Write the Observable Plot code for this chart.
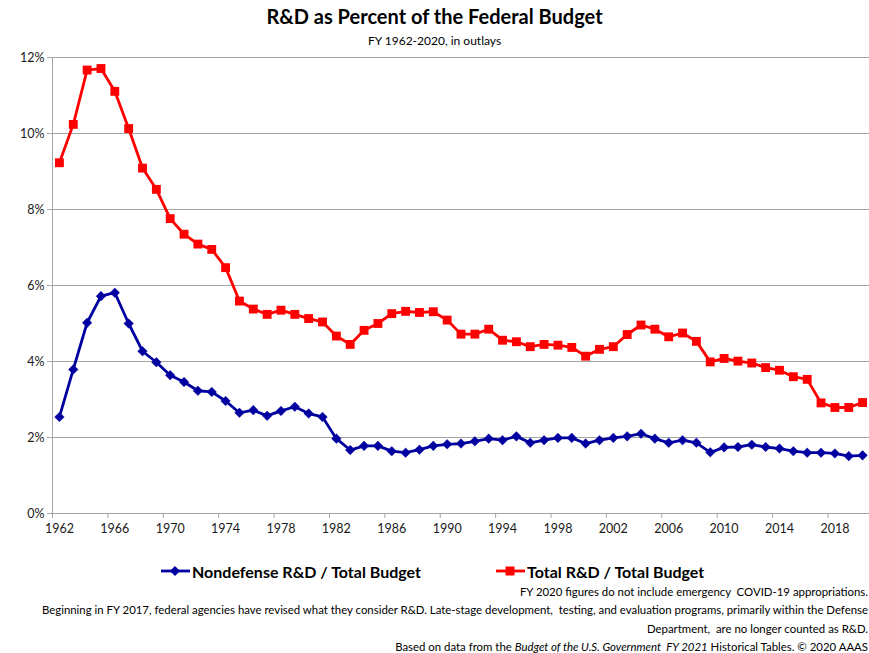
<!DOCTYPE html>
<html>
<head>
<meta charset="utf-8">
<script src="https://cdn.jsdelivr.net/npm/d3@7"></script>
<script src="https://cdn.jsdelivr.net/npm/@observablehq/plot@0.6"></script>
<style>
  html, body { margin: 0; padding: 0; background: #fff; overflow: hidden; }
  #wrap { position: relative; width: 869px; height: 653px; font-family: Lato, "Open Sans", sans-serif; color: #000; overflow: hidden; }
  #wrap svg.plot { position: absolute; left: 0; top: 0; }
  .title { position: absolute; left: 0; width: 869px; text-align: center; top: 4px; font-size: 20px; font-weight: bold; }
  .subtitle { position: absolute; left: 0; width: 869px; text-align: center; top: 33px; font-size: 12px; }
  .legend { position: absolute; top: 559px; left: 0; width: 869px; height: 24px; }
  .legend .item { position: absolute; top: 0; display: flex; align-items: center; font-size: 16px; font-weight: bold; }
  .legend svg { margin-right: 2px; }
  .notes { position: absolute; right: 1px; top: 583px; text-align: right; font-size: 11.4px; line-height: 18.4px; white-space: nowrap; }
</style>
</head>
<body>
<div id="wrap">
  <div class="title">R&amp;D as Percent of the Federal Budget</div>
  <div class="subtitle">FY 1962-2020, in outlays</div>
</div>
<script>
const years = d3.range(1962, 2021);
const nondefense = [
  2.54, 3.79, 5.02, 5.72, 5.81, 5.00, 4.27, 3.98, 3.64, 3.46,
  3.23, 3.20, 2.96, 2.65, 2.72, 2.57, 2.70, 2.81, 2.63, 2.54,
  1.97, 1.67, 1.78, 1.78, 1.64, 1.60, 1.68, 1.78, 1.82, 1.84,
  1.90, 1.97, 1.93, 2.03, 1.86, 1.93, 1.99, 1.99, 1.84, 1.93,
  1.99, 2.03, 2.10, 1.97, 1.86, 1.93, 1.86, 1.61, 1.74, 1.75,
  1.81, 1.75, 1.71, 1.64, 1.60, 1.60, 1.58, 1.51, 1.53
];
const total = [
  9.23, 10.24, 11.67, 11.71, 11.11, 10.13, 9.09, 8.53, 7.76, 7.35,
  7.09, 6.95, 6.47, 5.59, 5.38, 5.24, 5.35, 5.24, 5.13, 5.04,
  4.67, 4.45, 4.82, 5.00, 5.26, 5.32, 5.29, 5.31, 5.09, 4.72,
  4.72, 4.85, 4.56, 4.52, 4.39, 4.45, 4.43, 4.37, 4.14, 4.32,
  4.39, 4.71, 4.96, 4.85, 4.65, 4.75, 4.53, 3.99, 4.08, 4.01,
  3.96, 3.84, 3.77, 3.60, 3.53, 2.91, 2.79, 2.79, 2.92
];
const xTickLabels = [1962, 1966, 1970, 1974, 1978, 1982, 1986, 1990, 1994, 1998, 2002, 2006, 2010, 2014, 2018];
const yTickValues = [0, 2, 4, 6, 8, 10, 12];
const seriesNames = ["Nondefense R&D / Total Budget", "Total R&D / Total Budget"];
const seriesColors = ["#0000a0", "#ff0000"];
const footnotes = [
  "FY 2020 figures do not include emergency&nbsp; COVID-19 appropriations.",
  "Beginning in FY 2017, federal agencies have revised what they consider R&amp;D. Late-stage development,&nbsp; testing, and evaluation programs, primarily within the Defense",
  "Department,&nbsp; are no longer counted as R&amp;D.",
  "Based on data from the <i>Budget of the U.S. Government&nbsp; FY 2021</i> Historical Tables. © 2020 AAAS"
];

const rowsN = years.map((y, i) => ({year: y, value: nondefense[i]}));
const rowsT = years.map((y, i) => ({year: y, value: total[i]}));
const boundaries = xTickLabels.map(d => d - 0.5);
const gridColor = "#a6a6a6";

const chart = Plot.plot({
  width: 869,
  height: 545,
  marginLeft: 52,
  marginRight: 0,
  marginTop: 57,
  marginBottom: 32,
  style: {fontFamily: "Lato, 'Open Sans', sans-serif", fontSize: "12.5px", color: "#1a1a1a", background: "transparent"},
  x: {domain: [1961.5, 2020.5]},
  y: {domain: [0, 12]},
  marks: [
    Plot.ruleY(yTickValues.filter(d => d > 0), {stroke: gridColor, strokeWidth: 1}),
    Plot.ruleY([0], {stroke: gridColor, strokeWidth: 1}),
    Plot.ruleX([1961.5], {stroke: gridColor, strokeWidth: 1}),
    Plot.axisY({ticks: yTickValues, tickFormat: d => d + "%", tickSize: 5, tickPadding: 3, stroke: gridColor, label: null, fill: "#1a1a1a"}),
    Plot.axisX({ticks: boundaries, tickFormat: () => "", tickSize: 5, stroke: gridColor, label: null}),
    Plot.axisX({ticks: xTickLabels, tickFormat: d => String(d), tickSize: 0, tickPadding: 11, label: null, fill: "#1a1a1a"}),
    Plot.line(rowsN, {x: "year", y: "value", stroke: seriesColors[0], strokeWidth: 2.8}),
    Plot.dot(rowsN, {x: "year", y: "value", symbol: "diamond2", r: 4.3, fill: seriesColors[0], stroke: seriesColors[0], strokeWidth: 0.5}),
    Plot.line(rowsT, {x: "year", y: "value", stroke: seriesColors[1], strokeWidth: 2.8}),
    Plot.dot(rowsT, {x: "year", y: "value", symbol: "square", r: 5, fill: seriesColors[1]})
  ]
});
chart.classList.add("plot");
const wrap = document.getElementById("wrap");
wrap.insertBefore(chart, wrap.firstChild);

// legend
const legend = document.createElement("div");
legend.className = "legend";
const legendLefts = [161, 496];
const legendShapes = [
  '<polygon points="14,7 19,12 14,17 9,12" fill="' + seriesColors[0] + '"/>',
  '<rect x="9.5" y="7.5" width="9" height="9" fill="' + seriesColors[1] + '"/>'
];
seriesNames.forEach((name, i) => {
  const item = document.createElement("div");
  item.className = "item";
  item.style.left = legendLefts[i] + "px";
  item.innerHTML = '<svg width="29" height="24"><line x1="0" y1="12" x2="29" y2="12" stroke="' + seriesColors[i] + '" stroke-width="2.8"/>' + legendShapes[i] + '</svg><span>' + name.replace("&", "&amp;") + '</span>';
  legend.appendChild(item);
});
wrap.appendChild(legend);

const notes = document.createElement("div");
notes.className = "notes";
notes.innerHTML = footnotes.join("<br>");
wrap.appendChild(notes);
</script>
</body>
</html>
